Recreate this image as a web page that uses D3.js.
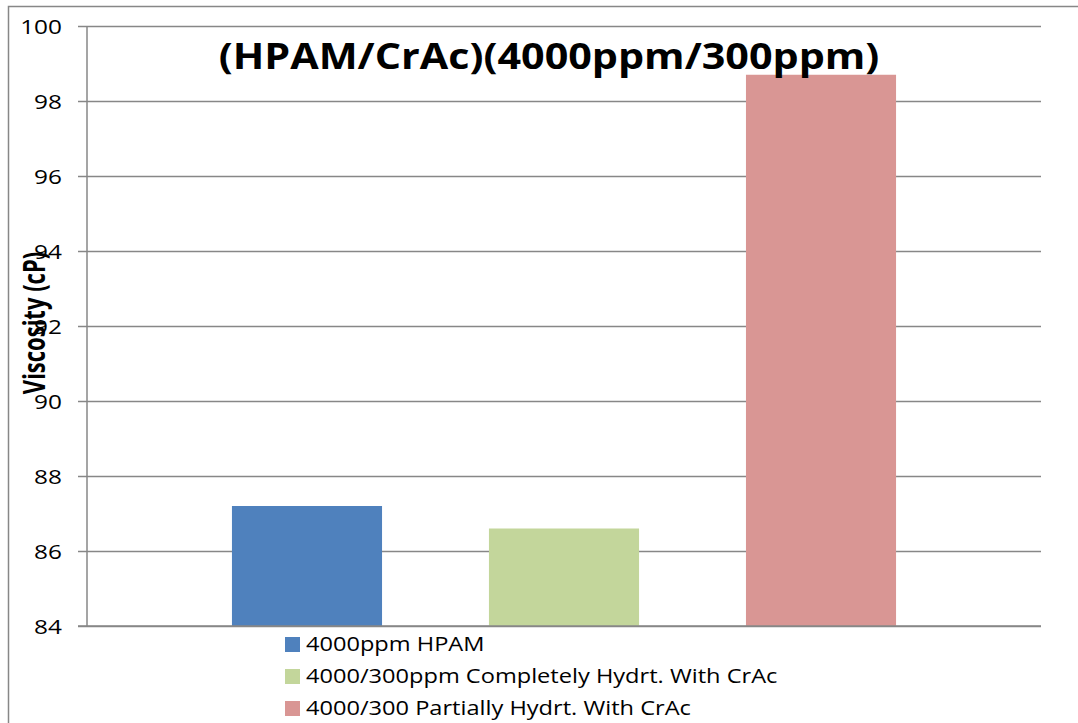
<!DOCTYPE html>
<html>
<head>
<meta charset="utf-8">
<script src="https://cdn.jsdelivr.net/npm/d3@7"></script>
<style>
  html, body { margin: 0; padding: 0; background: #fff; }
  svg { display: block; font-family: "Open Sans", "Noto Sans", sans-serif; }
</style>
</head>
<body>
<svg id="chart" width="1078" height="723"></svg>
<script>
// Series (one bar each) and their measured viscosities
const seriesNames = [
  "4000ppm HPAM",
  "4000/300ppm Completely Hydrt. With CrAc",
  "4000/300 Partially Hydrt. With CrAc"
];
const viscosity = [87.2, 86.6, 98.7];
const seriesColors = ["#4F81BD", "#C3D69B", "#D99694"];
const yTicks = [84, 86, 88, 90, 92, 94, 96, 98, 100];
const chartTitle = "(HPAM/CrAc)(4000ppm/300ppm)";
const yAxisTitle = "Viscosity (cP)";

const W = 1078, H = 723;
const plot = { left: 87, right: 1041, top: 26, bottom: 626 };
const stretch = 1.18;          // horizontal text stretch
const tickStretch = 1.22;      // digits on the value axis
const gridColor = "#878787";

const svg = d3.select("#chart");

// outer chart frame
svg.append("rect")
  .attr("x", 8.5).attr("y", 6.5)
  .attr("width", W).attr("height", H)
  .attr("fill", "none")
  .attr("stroke", gridColor)
  .attr("stroke-width", 1.5);

const y = d3.scaleLinear()
  .domain([d3.min(yTicks), d3.max(yTicks)])
  .range([plot.bottom, plot.top]);

const x = d3.scaleBand()
  .domain(seriesNames)
  .range([plot.left, plot.right])
  .paddingInner(0.416)
  .paddingOuter(0.564);

// horizontal gridlines
const grid = svg.append("g")
  .attr("transform", `translate(${plot.left},0)`)
  .call(d3.axisLeft(y).tickValues(yTicks).tickSize(-(plot.right - plot.left)).tickFormat(""));
grid.select(".domain").remove();
grid.selectAll("line").attr("stroke", gridColor).attr("stroke-width", 1.5);

// bars
svg.append("g")
  .selectAll("rect")
  .data(viscosity)
  .join("rect")
  .attr("x", (d, i) => x(seriesNames[i]))
  .attr("width", x.bandwidth())
  .attr("y", d => y(d))
  .attr("height", d => y(d3.min(yTicks)) - y(d))
  .attr("fill", (d, i) => seriesColors[i]);

// value axis
const yAxis = svg.append("g")
  .attr("transform", `translate(${plot.left},0)`)
  .call(d3.axisLeft(y).tickValues(yTicks).tickSize(9).tickFormat(d3.format("d")));
yAxis.attr("font-size", null).attr("font-family", null);
yAxis.select(".domain")
  .attr("stroke", gridColor).attr("stroke-width", 1.5)
  .attr("d", `M0,${plot.bottom}V${plot.top}`);
yAxis.selectAll(".tick line").attr("stroke", gridColor).attr("stroke-width", 1.5);
yAxis.selectAll(".tick text")
  .attr("x", 0)
  .attr("dy", "0.36em")
  .attr("transform", `translate(-25,0) scale(${tickStretch},1)`)
  .style("font-family", "'Open Sans', sans-serif")
  .style("font-size", "20px")
  .attr("fill", "#000");

// baseline at the axis minimum, in front of the bars
svg.append("line")
  .attr("x1", plot.left - 9).attr("x2", plot.right)
  .attr("y1", y(d3.min(yTicks))).attr("y2", y(d3.min(yTicks)))
  .attr("stroke", gridColor).attr("stroke-width", 1.5);

// chart title
svg.append("text")
  .attr("transform", `translate(549,69) scale(${stretch},1)`)
  .attr("text-anchor", "middle")
  .style("font-size", "35px")
  .attr("font-weight", "bold")
  .attr("fill", "#000")
  .text(chartTitle);

// y-axis title
svg.append("text")
  .attr("transform", `translate(45,323) scale(${stretch},1) rotate(-90) scale(0.88,1)`)
  .attr("text-anchor", "middle")
  .style("font-size", "25px")
  .attr("font-weight", "bold")
  .attr("fill", "#000")
  .text(yAxisTitle);

// legend
const legend = svg.append("g").attr("transform", "translate(285,637)");
const rows = legend.selectAll("g")
  .data(seriesNames)
  .join("g")
  .attr("transform", (d, i) => `translate(0,${i * 32})`);
rows.append("rect")
  .attr("width", 15).attr("height", 15)
  .attr("fill", (d, i) => seriesColors[i]);
rows.append("text")
  .attr("transform", `translate(21,14) scale(${stretch},1)`)
  .style("font-size", "20px")
  .attr("fill", "#000")
  .text(d => d);
</script>
</body>
</html>
